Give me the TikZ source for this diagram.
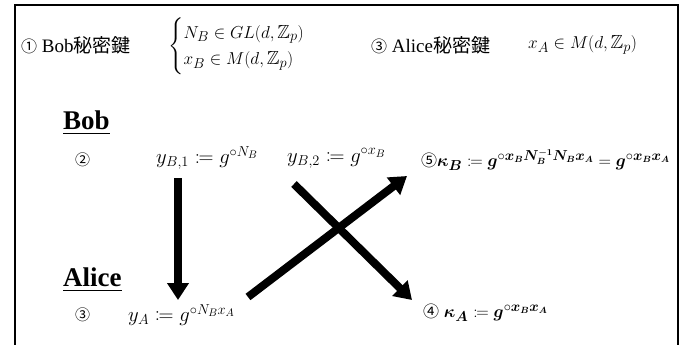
\documentclass[tikz,border=0pt]{standalone}
\usepackage{amsmath,amssymb,mathtools}
\usepackage{fontspec}
\setmainfont{Liberation Serif}
\newfontfamily\cjk{Noto Sans CJK JP}
\usetikzlibrary{arrows.meta}
\tikzset{
  lbl/.style={anchor=west,inner sep=0pt,font=\fontsize{19}{22}\selectfont},
  eqn/.style={anchor=west,inner sep=0pt,font=\fontsize{22}{25}\selectfont},
  num/.style={anchor=west,inner sep=0pt,font=\fontsize{15}{18}\selectfont\cjk},
  ttl/.style={anchor=west,inner sep=0pt,font=\fontsize{27}{30}\selectfont\bfseries},
  bigarrow/.style={line width=8pt,-{Triangle[width=21pt,length=17pt]}},
}
\begin{document}
\begin{tikzpicture}[x=1pt,y=-1pt]
\useasboundingbox (0,0) rectangle (686,345);
\draw[line width=2pt] (15,345) -- (15,5) -- (678,5) -- (678,345);
% top row
\node[lbl] (bobkey) at (21,45) {{\cjk\fontsize{16}{18}\selectfont ①} Bob{\cjk 秘密鍵}};
\node[lbl] (bobcases) at (168,46) {$\begin{cases}N_B\in GL(d,\mathbb{Z}_p)\\ x_B\in M(d,\mathbb{Z}_p)\end{cases}$};
\node[lbl] (alicekey) at (371,45) {{\cjk\fontsize{16}{18}\selectfont ③} Alice{\cjk 秘密鍵}};
\node[lbl] (alicexa) at (528,45) {$x_A\in M(d,\mathbb{Z}_p)$};
% Bob
\node[ttl] (bob) at (63,123) {\underline{Bob}};
\node[num] (n2) at (75,160) {②};
\node[eqn] (yb1) at (156,158) {$y_{B,1}\coloneqq g^{\circ N_B}$};
\node[eqn] (yb2) at (287,158) {$y_{B,2}\coloneqq g^{\circ x_B}$};
\node[lbl] (kb) at (421,160) {{\cjk\fontsize{16}{18}\selectfont ⑤}$\boldsymbol{\kappa}_{\boldsymbol{B}}\coloneqq \boldsymbol{g}^{\circ\boldsymbol{x_B N_B^{-1} N_B x_A}}=\boldsymbol{g}^{\circ\boldsymbol{x_B x_A}}$};
% Alice
\node[ttl] (alice) at (63,280) {\underline{Alice}};
\node[num] (n3) at (75,315) {③};
\node[eqn] (ya) at (128,315) {$y_A\coloneqq g^{\circ N_B x_A}$};
\node[lbl] (ka) at (423,313) {{\cjk\fontsize{16}{18}\selectfont ④} $\boldsymbol{\kappa}_{\boldsymbol{A}}\coloneqq \boldsymbol{g}^{\circ\boldsymbol{x_B x_A}}$};
% arrow end points
\coordinate (a1s) at (178,178);
\coordinate (a1e) at (178,300);
\coordinate (a2s) at (294,184);
\coordinate (a2e) at (412,300);
\coordinate (a3s) at (248,297);
\coordinate (a3e) at (407,176);
\draw[bigarrow] (a1s) -- (a1e);
\draw[bigarrow] (a2s) -- (a2e);
\draw[bigarrow] (a3s) -- (a3e);
\end{tikzpicture}
\end{document}
